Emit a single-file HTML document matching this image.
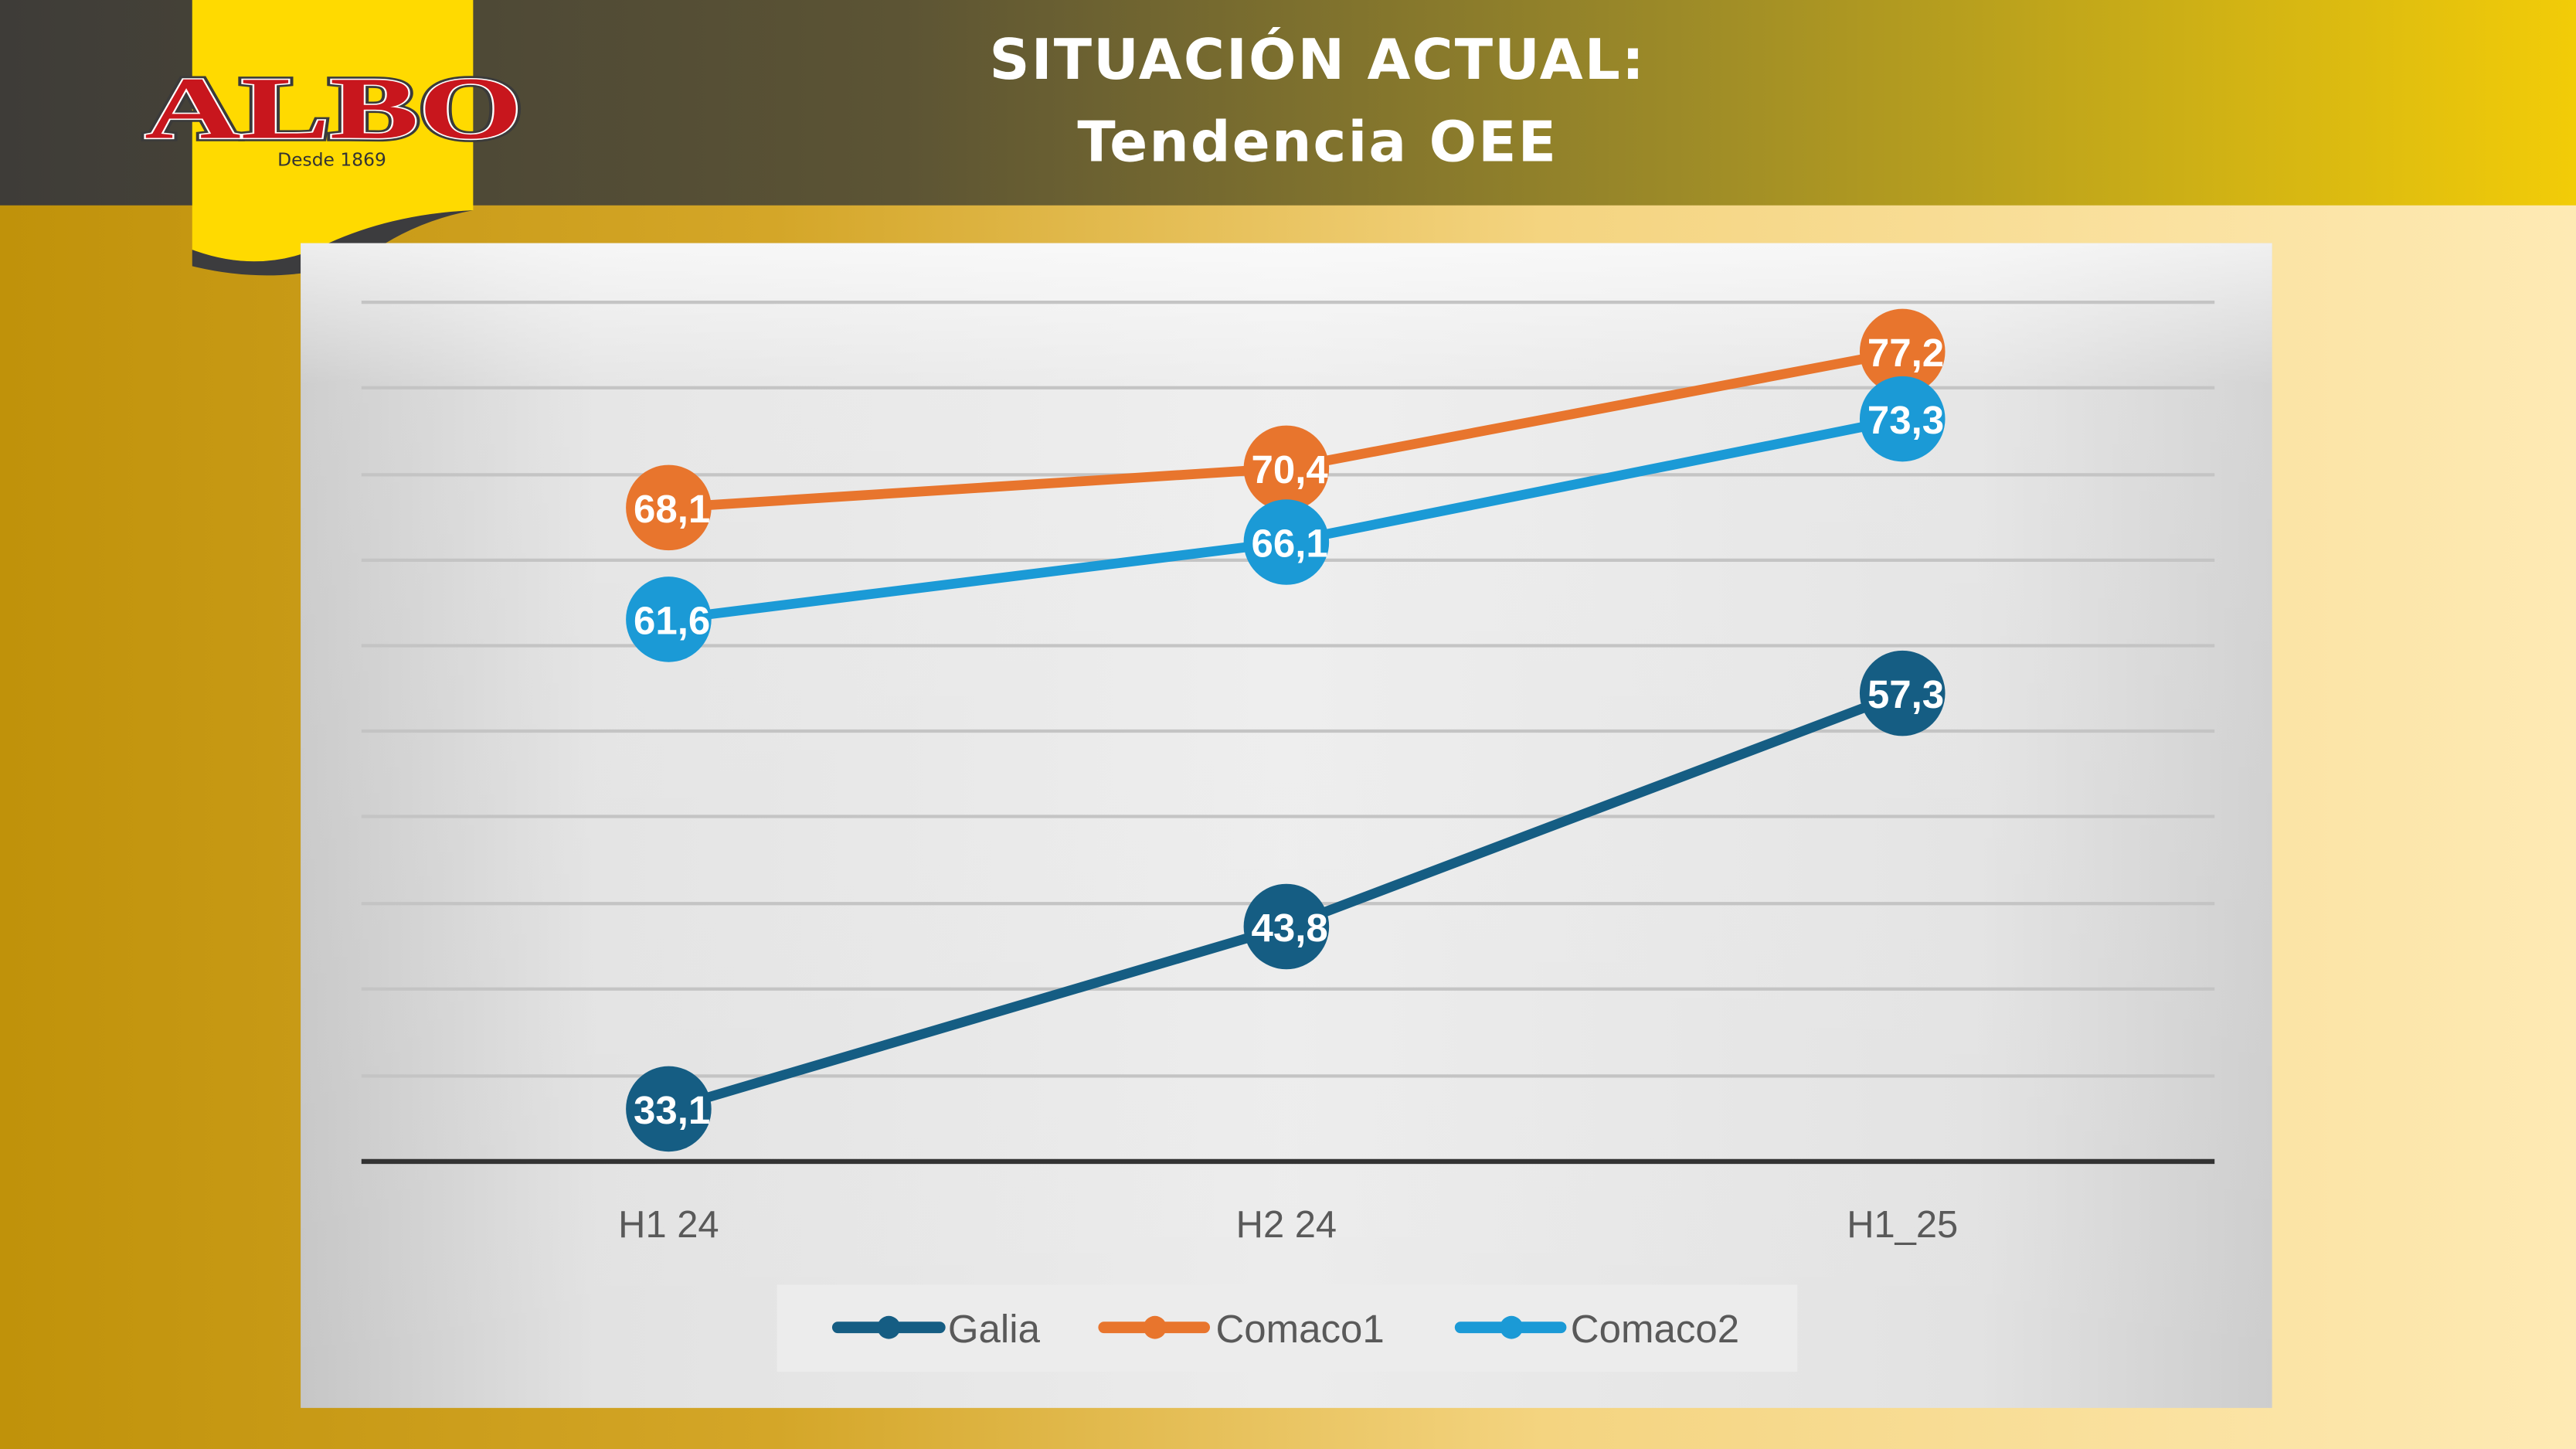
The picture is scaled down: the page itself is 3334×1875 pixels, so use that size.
<!DOCTYPE html>
<html><head><meta charset="utf-8"><style>
html,body{margin:0;padding:0;width:3334px;height:1875px;overflow:hidden}
svg{display:block}
</style></head><body>
<svg width="3334" height="1875" viewBox="0 0 1568 882" preserveAspectRatio="none" xmlns="http://www.w3.org/2000/svg">
<defs>
<linearGradient id="hdr" x1="0" x2="1" y1="0" y2="0">
<stop offset="0" stop-color="#3e3c38"/><stop offset="0.35" stop-color="#5c5434"/><stop offset="0.65" stop-color="#9c8a28"/><stop offset="1" stop-color="#f2cc08"/></linearGradient>
<linearGradient id="bg" x1="0" x2="1" y1="0" y2="0">
<stop offset="0" stop-color="#c0920a"/><stop offset="0.3" stop-color="#d4a628"/><stop offset="0.6" stop-color="#f4d480"/><stop offset="1" stop-color="#feeab4"/></linearGradient>
<linearGradient id="panelH" x1="0" x2="1" y1="0" y2="0">
<stop offset="0" stop-color="#c6c6c6"/><stop offset="0.15" stop-color="#e2e2e2"/><stop offset="0.5" stop-color="#ececec"/><stop offset="0.85" stop-color="#e2e2e2"/><stop offset="1" stop-color="#cdcdcd"/></linearGradient>
<linearGradient id="panelV" x1="0" x2="0" y1="0" y2="1">
<stop offset="0" stop-color="#fff" stop-opacity="0.7"/><stop offset="0.12" stop-color="#fff" stop-opacity="0.15"/><stop offset="1" stop-color="#fff" stop-opacity="0"/></linearGradient>
</defs>
<rect width="1568" height="882" fill="url(#bg)"/>
<rect width="1568" height="125" fill="url(#hdr)"/>
<path d="M117 0 H288 V128 Q240 130 200 148 Q160 168 117 152 Z" fill="#ffda00"/>
<path d="M117 152 Q160 168 200 148 Q240 130 288 128 Q250 135 220 158 Q170 175 117 162 Z" fill="#3c3c3e"/>
<text x="88" y="84" textLength="230" lengthAdjust="spacingAndGlyphs" font-family="Liberation Serif, serif" font-weight="bold" font-size="54" fill="#c8161d" stroke="#3a3a3a" stroke-width="4" paint-order="stroke">ALBO</text>
<text x="88" y="84" textLength="230" lengthAdjust="spacingAndGlyphs" font-family="Liberation Serif, serif" font-weight="bold" font-size="54" fill="#c8161d" stroke="#fff" stroke-width="1.5" paint-order="stroke">ALBO</text>
<text x="202" y="101" text-anchor="middle" font-family="DejaVu Sans, sans-serif" font-size="11" fill="#333">Desde 1869</text>
<text x="802" y="48" text-anchor="middle" font-family="DejaVu Sans, sans-serif" font-weight="bold" font-size="34" fill="#fff" letter-spacing="1">SITUACIÓN ACTUAL:</text>
<text x="802" y="98" text-anchor="middle" font-family="DejaVu Sans, sans-serif" font-weight="bold" font-size="34" fill="#fff" letter-spacing="1">Tendencia OEE</text>
<rect x="183" y="148" width="1200" height="709" fill="url(#panelH)"/>
<rect x="183" y="148" width="1200" height="709" fill="url(#panelV)"/>
<g stroke="#c4c4c4" stroke-width="2">
<line x1="220" x2="1348" y1="184" y2="184"/><line x1="220" x2="1348" y1="236" y2="236"/>
<line x1="220" x2="1348" y1="289" y2="289"/><line x1="220" x2="1348" y1="341" y2="341"/>
<line x1="220" x2="1348" y1="393" y2="393"/><line x1="220" x2="1348" y1="445" y2="445"/>
<line x1="220" x2="1348" y1="497" y2="497"/><line x1="220" x2="1348" y1="550" y2="550"/>
<line x1="220" x2="1348" y1="602" y2="602"/><line x1="220" x2="1348" y1="655" y2="655"/>
</g>
<line x1="220" x2="1348" y1="707" y2="707" stroke="#333" stroke-width="3"/>
<g font-family="Liberation Sans, sans-serif" font-size="23" fill="#595959" text-anchor="middle">
<text x="407" y="753">H1 24</text><text x="783" y="753">H2 24</text><text x="1158" y="753">H1_25</text></g>
<g fill="none" stroke-width="6" stroke-linejoin="round">
<polyline points="407,675 783,564 1158,422" stroke="#155d83"/>
<polyline points="407,309 783,285 1158,214" stroke="#e8752d"/>
<polyline points="407,377 783,330 1158,255" stroke="#1b9ad6"/>
</g>
<g fill="#155d83"><circle cx="407" cy="675" r="26"/><circle cx="783" cy="564" r="26"/><circle cx="1158" cy="422" r="26"/></g>
<g fill="#e8752d"><circle cx="407" cy="309" r="26"/><circle cx="783" cy="285" r="26"/><circle cx="1158" cy="214" r="26"/></g>
<g fill="#1b9ad6"><circle cx="407" cy="377" r="26"/><circle cx="783" cy="330" r="26"/><circle cx="1158" cy="255" r="26"/></g>
<g font-family="Liberation Sans, sans-serif" font-weight="bold" font-size="24" fill="#fff" text-anchor="middle">
<text x="409" y="684">33,1</text><text x="785" y="573">43,8</text><text x="1160" y="431">57,3</text>
<text x="409" y="318">68,1</text><text x="785" y="294">70,4</text><text x="1160" y="223">77,2</text>
<text x="409" y="386">61,6</text><text x="785" y="339">66,1</text><text x="1160" y="264">73,3</text>
</g>
<rect x="473" y="782" width="621" height="53" fill="#ececec"/>
<g stroke-width="7" stroke-linecap="round">
<line x1="510" x2="572" y1="808" y2="808" stroke="#155d83"/>
<line x1="672" x2="733" y1="808" y2="808" stroke="#e8752d"/>
<line x1="889" x2="950" y1="808" y2="808" stroke="#1b9ad6"/>
</g>
<circle cx="541" cy="808" r="7" fill="#155d83"/><circle cx="703" cy="808" r="7" fill="#e8752d"/><circle cx="920" cy="808" r="7" fill="#1b9ad6"/>
<g font-family="Liberation Sans, sans-serif" font-size="24" fill="#595959">
<text x="577" y="817">Galia</text><text x="740" y="817">Comaco1</text><text x="956" y="817">Comaco2</text></g>
</svg>
</body></html>
